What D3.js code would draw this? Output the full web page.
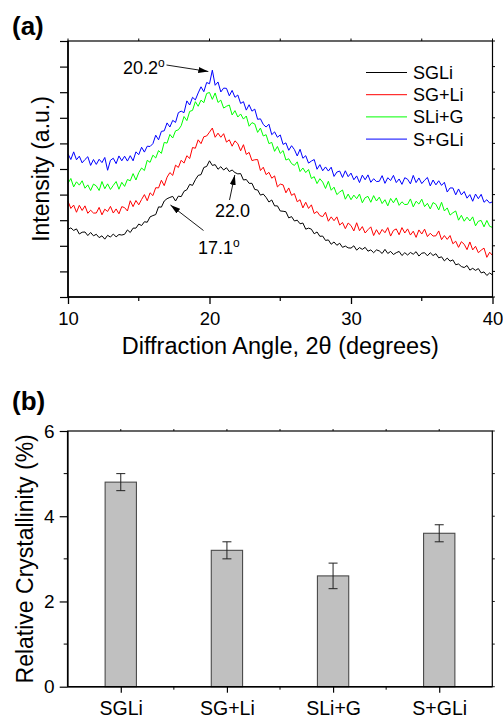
<!DOCTYPE html>
<html><head><meta charset="utf-8">
<script src="https://cdn.jsdelivr.net/npm/d3@7"></script>
<style>body{margin:0;background:#fff} svg{display:block} text{font-family:"Liberation Sans",Arial,Helvetica,sans-serif;fill:#000}</style>
</head><body>
<svg id="c" width="503" height="718"></svg>
<script>
// ---------- DATA ----------
const seriesNames = ["SGLi", "SG+Li", "SLi+G", "S+GLi"];
const seriesColors = ["#000000", "#ff0000", "#00ff00", "#0000ff"];
const angleStart = 10, angleStep = 0.2; // 2θ sampling: 10.0 ... 40.0

const xrdSGLi = [
 2.64,2.70,2.60,2.66,2.46,2.53,2.54,2.40,2.52,2.39,
 2.45,2.32,2.39,2.26,2.41,2.34,2.46,2.35,2.44,2.42,
 2.45,2.62,2.52,2.69,2.69,2.85,2.79,2.94,2.92,3.13,
 3.18,3.22,3.52,3.51,3.75,3.84,3.89,3.93,3.75,3.94,
 3.92,4.13,4.19,4.40,4.36,4.58,4.75,4.78,5.06,5.10,
 5.32,5.14,5.17,4.99,5.09,4.96,5.05,4.90,4.96,4.86,
 4.81,4.82,4.57,4.59,4.44,4.44,4.20,4.18,3.98,4.02,
 3.89,3.71,3.79,3.56,3.56,3.36,3.35,3.33,3.09,3.14,
 2.97,3.00,2.86,2.89,2.65,2.69,2.65,2.47,2.54,2.37,
 2.38,2.21,2.23,2.06,2.15,2.02,2.10,1.94,1.99,1.92,
 1.91,2.00,1.83,1.93,1.86,1.94,1.79,1.84,1.73,1.84,
 1.80,1.70,1.86,1.70,1.78,1.66,1.73,1.78,1.62,1.73,
 1.64,1.74,1.67,1.77,1.60,1.71,1.73,1.61,1.73,1.62,
 1.69,1.53,1.57,1.41,1.52,1.40,1.45,1.26,1.29,1.19,
 1.15,1.23,1.05,1.12,1.04,1.11,0.94,0.98,0.84,0.94,
 0.86];
const xrdSGplusLi = [
 3.74,3.46,3.59,3.31,3.58,3.38,3.56,3.27,3.39,3.28,
 3.28,3.50,3.21,3.43,3.34,3.54,3.28,3.44,3.25,3.53,
 3.49,3.36,3.76,3.53,3.77,3.60,3.81,4.00,3.76,4.07,
 3.96,4.27,4.26,4.56,4.35,4.68,4.86,4.75,5.15,5.06,
 5.34,5.23,5.52,5.41,5.84,5.81,6.14,5.99,6.26,6.29,
 6.44,6.60,6.24,6.40,6.24,6.38,6.05,6.14,5.89,6.10,
 5.99,5.71,5.95,5.57,5.65,5.33,5.36,5.37,4.94,5.07,
 4.78,4.87,4.64,4.73,4.30,4.41,4.38,4.07,4.26,3.97,
 4.04,3.72,3.80,3.48,3.70,3.46,3.60,3.26,3.34,3.18,
 3.14,3.31,2.96,3.13,2.98,3.13,2.81,2.91,2.67,2.89,
 2.79,2.58,2.90,2.59,2.75,2.50,2.63,2.74,2.40,2.63,
 2.44,2.64,2.51,2.71,2.38,2.60,2.66,2.43,2.71,2.50,
 2.66,2.42,2.57,2.33,2.62,2.46,2.65,2.36,2.49,2.38,
 2.39,2.58,2.24,2.40,2.25,2.40,2.08,2.18,1.94,2.16,
 2.06,1.85,2.15,1.84,1.98,1.73,1.83,1.91,1.55,1.75,
 1.62];
const xrdSLiplusG = [
 4.44,4.63,4.30,4.50,4.37,4.54,4.25,4.38,4.16,4.41,
 4.34,4.16,4.51,4.23,4.42,4.20,4.36,4.51,4.21,4.48,
 4.32,4.59,4.54,4.82,4.57,4.86,5.04,4.94,5.34,5.26,
 5.54,5.43,5.72,5.61,6.04,6.01,6.35,6.21,6.49,6.53,
 6.69,7.05,6.89,7.25,7.29,7.63,7.45,7.69,7.59,7.95,
 7.99,7.72,7.97,7.60,7.69,7.38,7.45,7.50,7.11,7.28,
 7.03,7.15,6.95,7.07,6.67,6.81,6.76,6.43,6.60,6.29,
 6.34,5.99,6.04,5.69,5.88,5.61,5.72,5.35,5.40,5.21,
 5.14,5.28,4.90,5.04,4.86,4.98,4.63,4.70,4.43,4.62,
 4.49,4.24,4.52,4.17,4.29,4.00,4.10,4.18,3.82,4.02,
 3.80,3.98,3.84,4.02,3.68,3.88,3.93,3.70,3.96,3.75,
 3.90,3.65,3.80,3.56,3.85,3.68,3.87,3.58,3.72,3.61,
 3.62,3.83,3.52,3.74,3.63,3.82,3.53,3.66,3.44,3.69,
 3.62,3.40,3.70,3.36,3.48,3.20,3.29,3.36,3.00,3.19,
 2.96,3.12,2.97,3.13,2.78,2.96,2.99,2.74,2.99,2.76,
 2.72];
const xrdSplusGLi = [
 5.59,5.37,5.67,5.36,5.50,5.24,5.37,5.48,5.14,5.37,
 5.18,5.38,5.25,5.45,4.95,5.34,5.42,5.21,5.51,5.32,
 5.50,5.31,5.52,5.32,5.67,5.56,5.85,5.66,5.89,5.88,
 5.99,6.32,6.14,6.47,6.49,6.80,6.64,6.90,6.82,7.20,
 7.26,7.20,7.66,7.50,7.80,7.70,7.97,8.21,8.02,8.38,
 8.33,8.86,8.27,8.40,8.01,8.16,8.15,7.86,8.07,7.80,
 7.89,7.56,7.63,7.30,7.51,7.26,7.34,6.94,6.96,6.74,
 6.64,6.75,6.34,6.45,6.24,6.33,5.96,6.02,5.73,5.91,
 5.76,5.51,5.77,5.42,5.52,5.23,5.31,5.37,4.99,5.17,
 4.93,5.08,4.92,5.07,4.71,4.88,4.92,4.67,4.93,4.70,
 4.84,4.58,4.73,4.47,4.76,4.58,4.77,4.48,4.62,4.51,
 4.52,4.74,4.44,4.66,4.55,4.75,4.47,4.61,4.40,4.66,
 4.60,4.42,4.75,4.47,4.65,4.43,4.56,4.67,4.34,4.57,
 4.38,4.54,4.36,4.48,4.10,4.26,4.26,3.99,4.22,3.99,
 4.12,3.86,4.00,3.74,4.02,3.84,4.01,3.70,3.80,3.67,
 3.72];
const xrdSeries = [xrdSGLi, xrdSGplusLi, xrdSLiplusG, xrdSplusGLi];
const xrdXTicks = [10, 20, 30, 40];
const xrdXMinor = [15, 25, 35];
const xrdYTicks = [0,1,2,3,4,5,6,7,8,9,10];

const peakLabels = ["20.2", "22.0", "17.1"];
const peakAngles = [20.2, 22.0, 17.1];

const barCategories = ["SGLi", "SG+Li", "SLi+G", "S+GLi"];
const barValues = [4.8, 3.2, 2.6, 3.6];
const barErrors = [0.2, 0.2, 0.3, 0.2];
const barYTicks = [0, 2, 4, 6];
const barYMinor = [1, 3, 5];

// ---------- DRAW ----------
const svg = d3.select("#c");
const F = '"Liberation Sans",Arial,Helvetica,sans-serif';

// ===== Panel (a) =====
const ax = {l: 68, r: 492.5, t: 41, b: 297};
const x1 = d3.scaleLinear().domain([10, 40]).range([ax.l, ax.r]);
const y1 = d3.scaleLinear().domain([0, 10]).range([ax.b, ax.t]);

svg.append("text").attr("x", 12).attr("y", 35).attr("font-size", 26).attr("font-weight", "bold").text("(a)");

const gA = svg.append("g");
const line = d3.line().x((d, i) => x1(angleStart + i * angleStep)).y(d => y1(d));
xrdSeries.forEach((s, k) => {
  gA.append("path").datum(s).attr("d", line).attr("fill", "none")
    .attr("stroke", seriesColors[k]).attr("stroke-width", 1).attr("stroke-linejoin", "miter");
});

// frame
const frame = svg.append("g").attr("stroke", "#000").attr("fill", "none");
frame.append("rect").attr("x", ax.l).attr("y", ax.t).attr("width", ax.r - ax.l).attr("height", ax.b - ax.t).attr("stroke-width", 1.2);
frame.append("line").attr("x1", ax.l).attr("x2", ax.r).attr("y1", ax.b).attr("y2", ax.b).attr("stroke-width", 1.6);
frame.append("line").attr("x1", ax.l).attr("x2", ax.l).attr("y1", ax.t).attr("y2", ax.b).attr("stroke-width", 1.6);

// bottom axis
const xAxisA = svg.append("g").attr("transform", `translate(0,${ax.b})`)
  .call(d3.axisBottom(x1).tickValues(xrdXTicks).tickSize(7).tickFormat(d3.format("d")));
xAxisA.select(".domain").remove();
xAxisA.selectAll("line").attr("stroke-width", 1.3);
xAxisA.selectAll("text").attr("font-size", 18.5).attr("font-family", F).attr("dy", 0).attr("y", 28);
xrdXMinor.forEach(v => {
  svg.append("line").attr("x1", x1(v)).attr("x2", x1(v)).attr("y1", ax.b).attr("y2", ax.b + 4).attr("stroke", "#000").attr("stroke-width", 1.2);
});
xrdXTicks.concat(xrdXMinor).forEach(v => {
  svg.append("line").attr("x1", x1(v)).attr("x2", x1(v)).attr("y1", ax.t).attr("y2", ax.t - 2.5).attr("stroke", "#000").attr("stroke-width", 1);
});
const yAxisA = svg.append("g").attr("transform", `translate(${ax.l},0)`)
  .call(d3.axisLeft(y1).tickValues(xrdYTicks).tickSize(8).tickFormat(""));
yAxisA.select(".domain").remove();
yAxisA.selectAll("line").attr("stroke-width", 1.2);
xrdYTicks.forEach(v => {
  svg.append("line").attr("x1", ax.r).attr("x2", ax.r + 2.5).attr("y1", y1(v)).attr("y2", y1(v)).attr("stroke", "#000").attr("stroke-width", 1);
});

svg.append("text").attr("x", (ax.l + ax.r) / 2).attr("y", 354).attr("text-anchor", "middle")
  .attr("font-size", 23.5).text("Diffraction Angle, 2θ (degrees)");
svg.append("text").attr("transform", `translate(49,${(ax.t + ax.b) / 2}) rotate(-90)`).attr("text-anchor", "middle")
  .attr("font-size", 23).text("Intensity (a.u.)");

// legend
const leg = svg.append("g");
seriesNames.forEach((n, k) => {
  const yy = 72.5 + k * 22.2;
  leg.append("line").attr("x1", 366).attr("x2", 407).attr("y1", yy).attr("y2", yy).attr("stroke", seriesColors[k]).attr("stroke-width", 1);
  leg.append("text").attr("x", 413).attr("y", yy + 6.5).attr("font-size", 18).text(n);
});

// annotations
const defs = svg.append("defs");
defs.append("marker").attr("id", "arr").attr("viewBox", "0 0 10 6").attr("refX", 10).attr("refY", 3)
  .attr("markerWidth", 10).attr("markerHeight", 6).attr("markerUnits", "userSpaceOnUse").attr("orient", "auto")
  .append("path").attr("d", "M0,0 L10,3 L0,6 Z").attr("fill", "#000");

function note(tx, ty, label, sup) {
  const t = svg.append("text").attr("x", tx).attr("y", ty).attr("font-size", 18).text(label);
  if (sup) t.append("tspan").attr("font-size", 12).attr("dy", -7).text("o");
}
function arrow(xa, ya, xb, yb) {
  svg.append("line").attr("x1", xa).attr("y1", ya).attr("x2", xb).attr("y2", yb)
    .attr("stroke", "#000").attr("stroke-width", 0.9).attr("marker-end", "url(#arr)");
}
note(123, 73.5, peakLabels[0], true);
arrow(166.5, 65, x1(peakAngles[0]) - 4, 71.5);
note(215, 216.5, peakLabels[1], false);
arrow(229.5, 200, x1(peakAngles[1]) - 3, 175);
note(198, 253.5, peakLabels[2], true);
arrow(203.5, 230.5, x1(peakAngles[2]) + 2, 205);

// ===== Panel (b) =====
const bx = {l: 67.7, r: 492.3, t: 431, b: 686.7};
const x2 = d3.scalePoint().domain(barCategories).range([bx.l, bx.r]).padding(0.5);
const x2lin = d3.scaleLinear().domain([0.5, 4.5]).range([bx.l, bx.r]);
const y2 = d3.scaleLinear().domain([0, 6]).range([bx.b, bx.t]);
const barW = 31.3;

svg.append("text").attr("x", 12).attr("y", 410).attr("font-size", 26).attr("font-weight", "bold").text("(b)");

svg.append("g").selectAll("rect").data(barValues).join("rect")
  .attr("x", (d, i) => x2(barCategories[i]) - barW / 2).attr("width", barW)
  .attr("y", d => y2(d)).attr("height", d => y2(0) - y2(d))
  .attr("fill", "#c0c0c0").attr("stroke", "#4a4a4a").attr("stroke-width", 1.1);

const eb = svg.append("g").attr("stroke", "#222").attr("stroke-width", 1);
barValues.forEach((v, i) => {
  const cx = x2(barCategories[i]);
  const hi = y2(v + barErrors[i]), lo = y2(v - barErrors[i]);
  eb.append("line").attr("x1", cx).attr("x2", cx).attr("y1", hi).attr("y2", lo);
  eb.append("line").attr("x1", cx - 4.5).attr("x2", cx + 4.5).attr("y1", hi).attr("y2", hi);
  eb.append("line").attr("x1", cx - 4.5).attr("x2", cx + 4.5).attr("y1", lo).attr("y2", lo);
});

const frameB = svg.append("g").attr("stroke", "#000").attr("fill", "none");
frameB.append("rect").attr("x", bx.l).attr("y", bx.t).attr("width", bx.r - bx.l).attr("height", bx.b - bx.t).attr("stroke-width", 1.2);
frameB.append("line").attr("x1", bx.l).attr("x2", bx.r).attr("y1", bx.b).attr("y2", bx.b).attr("stroke-width", 1.6);
frameB.append("line").attr("x1", bx.l).attr("x2", bx.l).attr("y1", bx.t).attr("y2", bx.b).attr("stroke-width", 1.6);

const xAxisB = svg.append("g").attr("transform", `translate(0,${bx.b})`)
  .call(d3.axisBottom(x2).tickSize(6));
xAxisB.select(".domain").remove();
xAxisB.selectAll("line").attr("stroke-width", 1.2);
xAxisB.selectAll("text").attr("font-size", 19.5).attr("font-family", F).attr("y", 28).attr("dy", 0);
[1.5, 2.5, 3.5].forEach(v => {
  svg.append("line").attr("x1", x2lin(v)).attr("x2", x2lin(v)).attr("y1", bx.b).attr("y2", bx.b + 3).attr("stroke", "#000");
});
[1, 1.5, 2, 2.5, 3, 3.5, 4].forEach(v => {
  svg.append("line").attr("x1", x2lin(v)).attr("x2", x2lin(v)).attr("y1", bx.t).attr("y2", bx.t - 2).attr("stroke", "#000").attr("stroke-width", 0.9);
});

const yAxisB = svg.append("g").attr("transform", `translate(${bx.l},0)`)
  .call(d3.axisLeft(y2).tickValues(barYTicks).tickSize(8).tickPadding(5).tickFormat(d3.format("d")));
yAxisB.select(".domain").remove();
yAxisB.selectAll("line").attr("stroke-width", 1.2);
yAxisB.selectAll("text").attr("font-size", 19).attr("font-family", F);
barYMinor.forEach(v => {
  svg.append("line").attr("x1", bx.l).attr("x2", bx.l - 4).attr("y1", y2(v)).attr("y2", y2(v)).attr("stroke", "#000");
});
barYTicks.concat(barYMinor).forEach(v => {
  svg.append("line").attr("x1", bx.r).attr("x2", bx.r + 2.5).attr("y1", y2(v)).attr("y2", y2(v)).attr("stroke", "#000").attr("stroke-width", 0.9);
});

svg.append("text").attr("transform", `translate(33,${(bx.t + bx.b) / 2}) rotate(-90)`).attr("text-anchor", "middle")
  .attr("font-size", 23).text("Relative Crystallinity (%)");
</script>
</body></html>
